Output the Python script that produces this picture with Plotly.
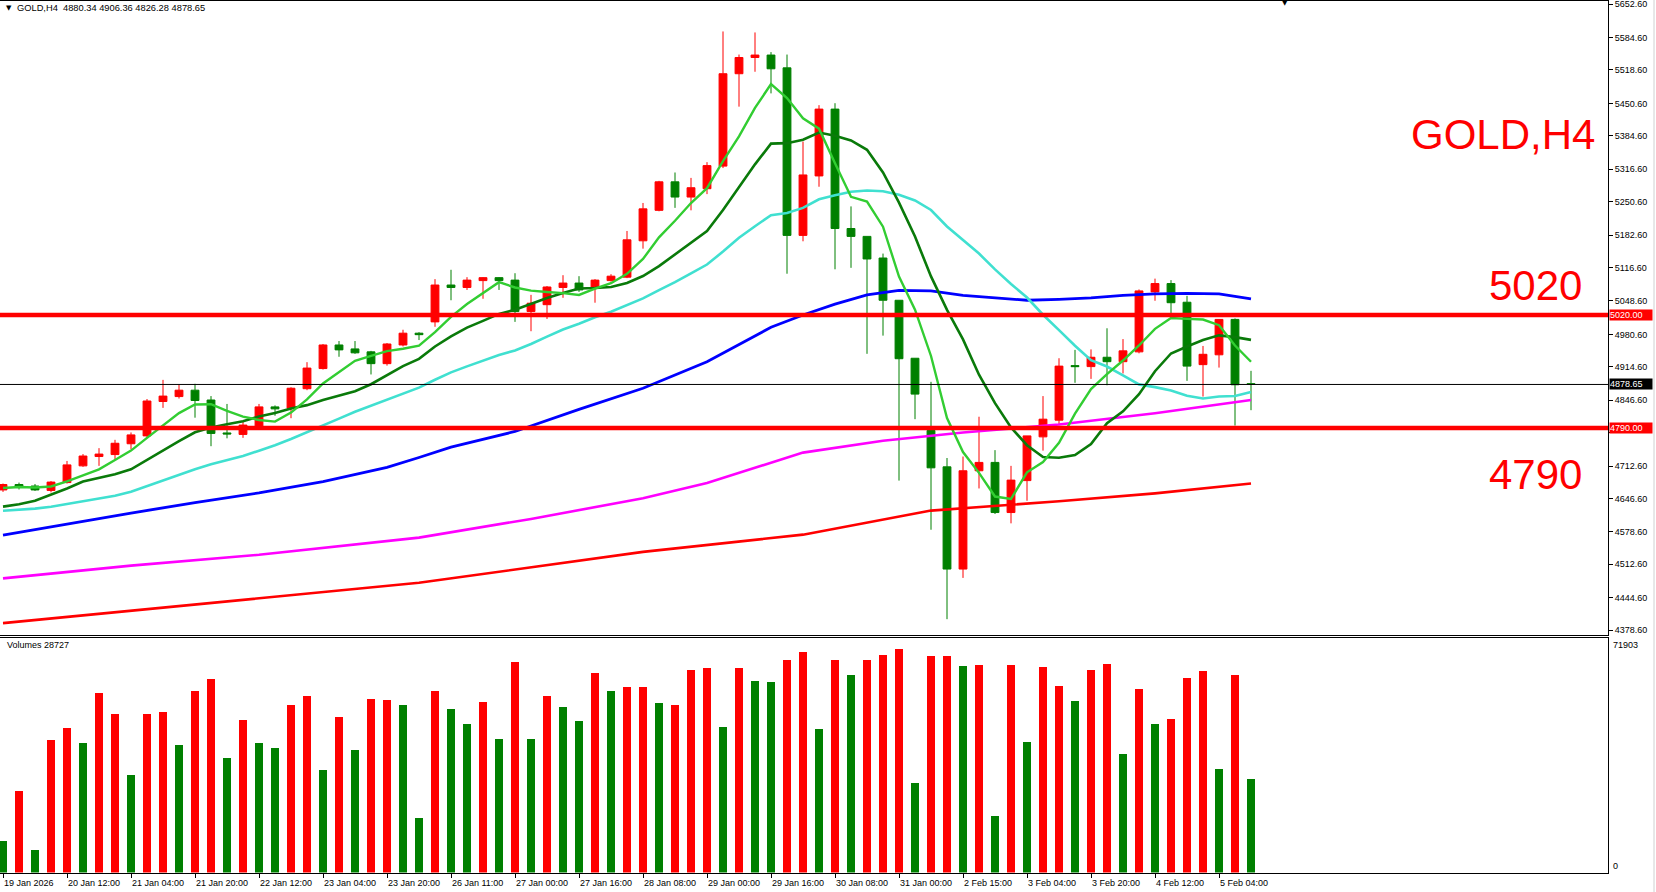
import plotly.graph_objects as go

W, H = 1656, 892

header_text = "GOLD,H4  4880.34 4906.36 4826.28 4878.65"
volume_label = "Volumes 28727"

tick_labels = ["19 Jan 2026", "20 Jan 12:00", "21 Jan 04:00", "21 Jan 20:00", "22 Jan 12:00",
               "23 Jan 04:00", "23 Jan 20:00", "26 Jan 11:00", "27 Jan 00:00", "27 Jan 16:00",
               "28 Jan 08:00", "29 Jan 00:00", "29 Jan 16:00", "30 Jan 08:00", "31 Jan 00:00",
               "2 Feb 15:00", "3 Feb 04:00", "3 Feb 20:00", "4 Feb 12:00", "5 Feb 04:00"]

price_ticks = [5652.60, 5584.60, 5518.60, 5450.60, 5384.60, 5316.60, 5250.60, 5182.60, 5116.60,
               5048.60, 4980.60, 4914.60, 4846.60, 4780.60, 4712.60, 4646.60, 4578.60, 4512.60,
               4444.60, 4378.60]
hidden_tick = 4780.60  # covered by the 4790.00 level label in the reference

opens = [4664, 4675, 4672, 4663, 4679, 4713, 4732, 4736, 4758, 4774,
         4844, 4854, 4867, 4847, 4780, 4777, 4793, 4833, 4830, 4870,
         4911, 4959, 4951, 4945, 4921, 4959, 4983, 5006, 5081, 5076,
         5090, 5096, 5091, 5027, 5041, 5076, 5085, 5076, 5090, 5097,
         5171, 5233, 5291, 5260, 5277, 5323, 5511, 5544, 5549, 5523,
         5182, 5303, 5439, 5196, 5180, 5136, 5050, 4932, 4785, 4711,
         4503, 4703, 4720, 4618, 4683, 4772, 4806, 4917, 4915, 4934,
         4925, 4945, 5067, 5084, 5046, 4919, 4939, 5011, 4880.34]
highs = [4677, 4679, 4676, 4682, 4723, 4737, 4749, 4766, 4781, 4849,
         4888, 4878, 4880, 4855, 4839, 4803, 4839, 4836, 4873, 4924,
         4961, 4967, 4967, 4947, 4963, 4990, 4985, 5093, 5112, 5097,
         5097, 5097, 5105, 5061, 5079, 5101, 5099, 5093, 5103, 5191,
         5248, 5293, 5310, 5299, 5331, 5597, 5550, 5595, 5555, 5550,
         5373, 5447, 5451, 5241, 5180, 5145, 5050, 4932, 4884, 4729,
         4732, 4813, 4745, 4713, 4774, 4855, 4932, 4949, 4950, 4993,
         4971, 5072, 5094, 5091, 5059, 4957, 5011, 5013, 4906.36]
lows = [4660, 4665, 4662, 4659, 4677, 4711, 4713, 4726, 4747, 4771,
        4831, 4850, 4811, 4753, 4769, 4770, 4793, 4815, 4810, 4867,
        4909, 4935, 4941, 4899, 4917, 4956, 4969, 4996, 5050, 5071,
        5053, 5071, 5006, 4987, 5012, 5055, 5067, 5045, 5088, 5095,
        5155, 5231, 5238, 5233, 5266, 5319, 5444, 5515, 5471, 5104,
        5170, 5281, 5113, 5116, 4941, 4978, 4683, 4808, 4583, 4401,
        4485, 4667, 4615, 4596, 4642, 4744, 4798, 4882, 4890, 4877,
        4901, 4942, 5049, 5023, 4886, 4854, 4913, 4795, 4826.28]
closes = [4675, 4672, 4664, 4680, 4715, 4733, 4737, 4759, 4776, 4845,
          4855, 4867, 4846, 4779, 4778, 4796, 4833, 4829, 4871, 4912,
          4959, 4949, 4943, 4921, 4961, 4983, 4980, 5081, 5076, 5091,
          5096, 5090, 5027, 5044, 5077, 5085, 5071, 5091, 5099, 5173,
          5236, 5291, 5260, 5279, 5324, 5511, 5544, 5549, 5521, 5182,
          5305, 5439, 5196, 5180, 5134, 5050, 4931, 4859, 4709, 4503,
          4703, 4720, 4618, 4684, 4774, 4808, 4916, 4915, 4934, 4925,
          4947, 5069, 5084, 5045, 4916, 4940, 5011, 4878, 4878.65]

volumes = [9741, 25014, 6822, 40564, 44128, 39611, 54853, 48369, 29870, 48369,
           49014, 38935, 55498, 59063, 35063, 46740, 39611, 37982, 51288, 53870,
           31498, 47693, 37337, 53224, 52917, 51288, 16563, 55498, 49967, 45449,
           52241, 40902, 64256, 40902, 53870, 50612, 46402, 60999, 55498, 56789,
           56789, 51934, 51288, 61982, 62628, 44466, 62628, 58725, 58418, 64902,
           67483, 43821, 64902, 60354, 64902, 66530, 68466, 27257, 66192, 66192,
           63273, 63611, 17209, 63611, 39918, 62966, 57127, 52579, 61982, 63918,
           36353, 56144, 45449, 47048, 59370, 61644, 31806, 60354, 28727]
# volume bar direction as drawn: 1 = red (up), 0 = green (down)
volume_up = [0, 1, 0, 1, 1, 0, 1, 1, 0, 1, 1, 0, 1, 1, 0, 1, 0, 0, 1, 1,
             0, 1, 0, 1, 1, 0, 0, 1, 0, 0, 1, 0, 1, 0, 1, 0, 0, 1, 0, 1,
             1, 0, 1, 1, 1, 0, 1, 0, 0, 1, 1, 0, 1, 0, 1, 1, 1, 0, 1, 1,
             0, 1, 0, 1, 0, 1, 1, 0, 1, 1, 0, 1, 0, 1, 1, 1, 0, 1, 0]

sma5 = [4668, 4670, 4669, 4671, 4681.2, 4692.8, 4705.8, 4724.8, 4744, 4770,
        4794.4, 4820.4, 4837.8, 4838.4, 4825, 4813.2, 4806.4, 4803, 4821.4, 4848.2,
        4880.8, 4904, 4926.8, 4936.8, 4946.6, 4951.4, 4957.6, 4985.2, 5016.2, 5042.2,
        5064.8, 5086.8, 5076, 5069.6, 5066.8, 5064.6, 5060.8, 5073.6, 5084.6, 5103.8,
        5134, 5178, 5211.8, 5247.8, 5278, 5333, 5383.6, 5441.4, 5489.8, 5461.4,
        5420.2, 5399.2, 5328.6, 5260.4, 5250.8, 5199.8, 5098.2, 5030.8, 4936.6, 4810.4,
        4741, 4698.8, 4650.6, 4645.6, 4699.8, 4720.8, 4760, 4819.4, 4869.4, 4899.6,
        4927.4, 4958, 4991.8, 5014, 5012.2, 5010.8, 4999.2, 4958, 4924.8]
sma10 = [4630, 4635, 4642, 4654, 4667, 4681, 4689, 4696, 4706, 4725.6,
         4743.6, 4763.1, 4781.3, 4791.2, 4797.5, 4803.8, 4813.4, 4820.4, 4829.9, 4836.6,
         4847, 4855.2, 4864.9, 4879.1, 4897.4, 4916.1, 4930.8, 4956, 4976.5, 4994.4,
         5008.1, 5022.2, 5030.6, 5042.9, 5054.5, 5064.7, 5073.8, 5074.8, 5077.1, 5085.3,
         5099.3, 5119.4, 5142.7, 5166.2, 5190.9, 5233.5, 5280.8, 5326.6, 5368.8, 5369.7,
         5376.6, 5391.4, 5385, 5375.1, 5356.1, 5310, 5248.7, 5179.7, 5098.5, 5030.6,
         4970.4, 4898.5, 4840.7, 4791.1, 4755.1, 4730.9, 4729.4, 4735, 4757.5, 4799.7,
         4824.1, 4859, 4905.6, 4941.7, 4955.9, 4969.1, 4978.6, 4974.9, 4969.4]
sma20 = [4621.8, 4623.2, 4625.9, 4629.9, 4635.4, 4640.9, 4647, 4652.3, 4660.4, 4672,
         4684.3, 4695.8, 4706, 4716.2, 4725, 4733.1, 4743.9, 4754.8, 4767.7, 4781.1,
         4795.3, 4809.2, 4823.1, 4835.2, 4847.5, 4860, 4872.1, 4888.2, 4903.2, 4915.5,
         4927.6, 4938.7, 4947.8, 4961, 4976, 4990.4, 5002.3, 5015.4, 5026.8, 5039.9,
         5053.7, 5070.8, 5086.7, 5104.6, 5122.7, 5149.1, 5177.3, 5200.7, 5223, 5227.5,
         5238, 5255.4, 5263.9, 5270.7, 5273.5, 5271.8, 5264.8, 5253.2, 5233.7, 5200.2,
         5173.5, 5145, 5112.9, 5083.1, 5055.6, 5020.5, 4989.1, 4957.4, 4928, 4915.2,
         4897.3, 4878.8, 4873.2, 4866.4, 4855.5, 4850, 4854, 4855, 4863.5]

ma_blue_bars = [0, 4, 8, 12, 16, 20, 24, 26, 28, 32, 36, 40, 44, 48, 50, 52, 54, 56, 58, 60,
                62, 64, 66, 68, 70, 72, 74, 76, 78]
ma_blue = [4572, 4595, 4617, 4638, 4658, 4681, 4710, 4730, 4751, 4783, 4828, 4871, 4925, 4995,
           5020, 5042, 5061, 5070, 5069, 5060, 5055, 5050, 5052, 5055, 5060, 5063, 5064, 5063, 5053]
ma_magenta_bars = [0, 8, 16, 26, 33, 40, 44, 50, 55, 60, 66, 72, 78]
ma_magenta = [4484, 4510, 4532, 4567, 4605, 4647, 4678, 4740, 4764, 4781, 4797, 4820, 4847]
ma_red_bars = [0, 26, 40, 50, 58, 66, 72, 78]
ma_red = [4393, 4475, 4538, 4573, 4622, 4641, 4657, 4677]

levels = [5020.00, 4790.00]
last_price = 4878.65
vol_max_label = 71903

big_texts = ["GOLD,H4", "5020", "4790"]

# ---------------- pixel geometry of the MT4 window -------------
def px(x):
    return x / W

def py(y):
    return 1 - y / H

PLOT_RIGHT = 1608
PRICE_TOP, PRICE_BOT = 0.5, 634.5
VOL_TOP, VOL_BOT = 637.5, 872.5
BAR_PX = 16.0
BAR0_PX = 3.0
PX_PER_PRICE = 1 / 2.035
REF_PRICE, REF_Y = 5020.0, 315.0

price_hi = REF_PRICE + (REF_Y - PRICE_TOP) / PX_PER_PRICE
price_lo = REF_PRICE - (PRICE_BOT - REF_Y) / PX_PER_PRICE
x_lo = (0 - BAR0_PX) / BAR_PX
x_hi = (PLOT_RIGHT - BAR0_PX) / BAR_PX

UP_COLOR = "#FF0000"
DOWN_COLOR = "#008000"
FONT = "Liberation Sans, Arial"

bars = list(range(len(closes)))
vol_colors = [UP_COLOR if u else DOWN_COLOR for u in volume_up]

fig = go.Figure()

fig.add_trace(go.Candlestick(
    x=bars, open=opens, high=highs, low=lows, close=closes,
    increasing=dict(line=dict(color=UP_COLOR, width=1), fillcolor=UP_COLOR),
    decreasing=dict(line=dict(color=DOWN_COLOR, width=1), fillcolor=DOWN_COLOR),
    whiskerwidth=0, xaxis="x2", yaxis="y", hoverinfo="skip", showlegend=False))

line_specs = [
    (ma_red_bars, ma_red, "#FF0000", 2.6),
    (ma_magenta_bars, ma_magenta, "#FF00FF", 2.6),
    (ma_blue_bars, ma_blue, "#0000FF", 2.8),
    (bars, sma20, "#40E0D0", 2.6),
    (bars, sma10, "#0A7A0A", 2.6),
    (bars, sma5, "#32CD32", 2.4),
]
for xs, ys, col, w in line_specs:
    fig.add_trace(go.Scatter(x=xs, y=ys, mode="lines", line=dict(color=col, width=w),
                             xaxis="x2", yaxis="y", hoverinfo="skip", showlegend=False))

fig.add_trace(go.Bar(x=bars, y=volumes, marker=dict(color=vol_colors, line=dict(width=0)),
                     width=0.56, xaxis="x", yaxis="y2", hoverinfo="skip", showlegend=False))

shapes = []
for lv in levels:
    shapes.append(dict(type="line", xref="x2", yref="y", x0=x_lo, x1=x_hi, y0=lv, y1=lv,
                       line=dict(color="#FF0000", width=4.5), layer="above"))
shapes.append(dict(type="line", xref="x2", yref="y", x0=x_lo, x1=x_hi, y0=last_price, y1=last_price,
                   line=dict(color="#000000", width=1), layer="above"))
shapes.append(dict(type="line", xref="paper", yref="paper", x0=px(1654), x1=px(1654), y0=0, y1=1,
                   line=dict(color="#D0D0D0", width=1)))

annotations = []
for lv, bg in [(levels[0], "#FF0000"), (levels[1], "#FF0000"), (last_price, "#000000")]:
    annotations.append(dict(x=px(PLOT_RIGHT + 1), y=lv, xref="paper", yref="y", xanchor="left",
                            yanchor="middle", text=f"{lv:.2f}", showarrow=False, bgcolor=bg,
                            font=dict(family=FONT, size=9, color="white"),
                            width=42, align="left", borderpad=0))

for i, lab in enumerate(tick_labels):
    annotations.append(dict(x=4 * i, y=py(883), xref="x", yref="paper", xanchor="left",
                            yanchor="middle", text=lab, showarrow=False, xshift=-1,
                            font=dict(family=FONT, size=9, color="black")))

annotations.append(dict(x=px(PLOT_RIGHT + 3), y=vol_max_label, xref="paper", yref="y2", xanchor="left",
                        yanchor="top", text=str(vol_max_label), showarrow=False,
                        font=dict(family=FONT, size=9, color="black")))
annotations.append(dict(x=px(PLOT_RIGHT + 3), y=0, xref="paper", yref="y2", xanchor="left",
                        yanchor="bottom", text="0", showarrow=False,
                        font=dict(family=FONT, size=9, color="black")))

annotations.append(dict(x=px(4), y=py(8), xref="paper", yref="paper", xanchor="left", yanchor="middle",
                        text="\u25BC", showarrow=False, font=dict(family="DejaVu Sans", size=7, color="black")))
annotations.append(dict(x=px(15), y=py(8), xref="paper", yref="paper", xanchor="left", yanchor="middle",
                        text=header_text.replace("  ", "&nbsp; "), showarrow=False,
                        font=dict(family=FONT, size=9.3, color="black")))
annotations.append(dict(x=px(1285), y=py(3), xref="paper", yref="paper", xanchor="center", yanchor="middle",
                        text="\u25BC", showarrow=False, font=dict(family="DejaVu Sans", size=7, color="black")))
annotations.append(dict(x=px(5), y=py(645), xref="paper", yref="paper", xanchor="left", yanchor="middle",
                        text=volume_label, showarrow=False,
                        font=dict(family=FONT, size=9, color="black")))

big_pos = [(1597, 134), (1584, 285), (1584, 474)]
for t, (bx, by) in zip(big_texts, big_pos):
    annotations.append(dict(x=px(bx), y=py(by), xref="paper", yref="paper", xanchor="right",
                            yanchor="middle", text=t, showarrow=False,
                            font=dict(family=FONT, size=42, color="#FF0000")))

axis_common = dict(showgrid=False, zeroline=False, showline=True, linecolor="black", linewidth=1,
                   mirror=True)

fig.update_layout(
    width=W, height=H, autosize=False,
    margin=dict(l=0, r=0, t=0, b=0, autoexpand=False),
    paper_bgcolor="white", plot_bgcolor="white",
    showlegend=False, bargap=0,
    xaxis=dict(domain=[0, px(PLOT_RIGHT)], range=[x_lo, x_hi], anchor="y2",
               tickmode="array", tickvals=[4 * i for i in range(len(tick_labels))],
               ticks="outside", ticklen=4, tickcolor="black", showticklabels=False,
               rangeslider=dict(visible=False), automargin=False, **axis_common),
    xaxis2=dict(domain=[0, px(PLOT_RIGHT)], range=[x_lo, x_hi], anchor="y", matches="x",
                showticklabels=False, ticks="", rangeslider=dict(visible=False), automargin=False,
                **axis_common),
    yaxis=dict(domain=[py(PRICE_BOT), py(PRICE_TOP)], range=[price_lo, price_hi], side="right",
               anchor="x2", tickmode="array", tickvals=price_ticks,
               ticktext=["" if v == hidden_tick else f"{v:.2f}" for v in price_ticks],
               ticks="outside", ticklen=4, tickcolor="black", automargin=False,
               ticklabeloverflow="allow",
               tickfont=dict(family=FONT, size=9, color="black"), **axis_common),
    yaxis2=dict(domain=[py(VOL_BOT), py(VOL_TOP)], range=[0, vol_max_label], side="right",
                anchor="x", showticklabels=False, ticks="", automargin=False, **axis_common),
    shapes=shapes,
    annotations=annotations,
)

fig.write_html("out.html", config={"displayModeBar": False, "staticPlot": True},
               post_script="document.body.style.margin='0px';document.body.style.padding='0px';")
